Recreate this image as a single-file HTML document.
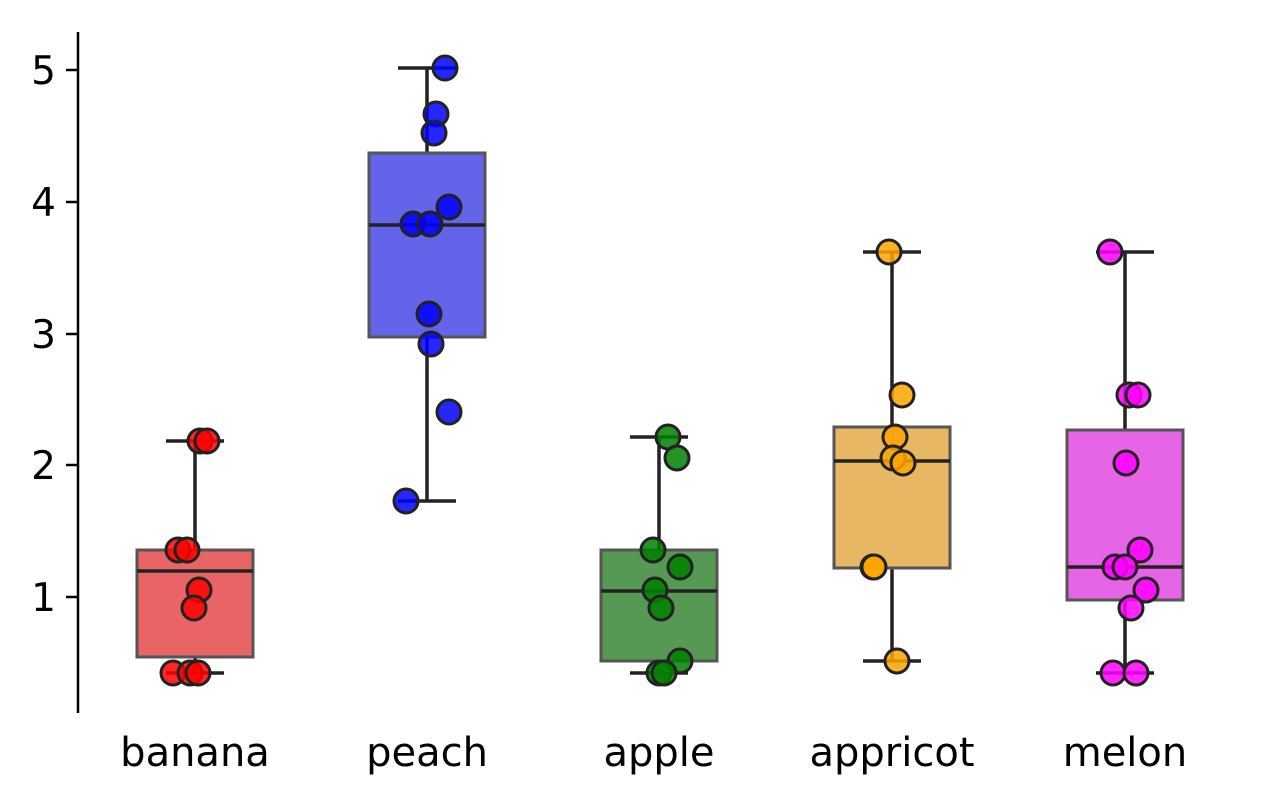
<!DOCTYPE html>
<html><head><meta charset="utf-8"><style>body{margin:0;background:#fff}svg{display:block}</style></head>
<body>
<svg width="1273" height="803" viewBox="0 0 1273 803" xmlns="http://www.w3.org/2000/svg" font-family="DejaVu Sans, Liberation Sans, sans-serif">
<g stroke="#000" stroke-width="2.5">
<line x1="78" y1="32" x2="78" y2="713"/>
<line x1="66" y1="70" x2="78" y2="70"/><line x1="66" y1="202" x2="78" y2="202"/><line x1="66" y1="334" x2="78" y2="334"/><line x1="66" y1="465" x2="78" y2="465"/><line x1="66" y1="597" x2="78" y2="597"/>
</g>
<g font-size="39" text-anchor="end" fill="#000">
<text x="56" y="84">5</text><text x="56" y="216">4</text><text x="56" y="348">3</text><text x="56" y="479">2</text><text x="56" y="611">1</text>
</g>
<g font-size="40" text-anchor="middle" fill="#000">
<text x="195" y="766">banana</text><text x="427" y="766">peach</text><text x="659" y="766">apple</text><text x="892" y="766">appricot</text><text x="1125" y="766">melon</text>
</g>
<g stroke="#222" stroke-width="3.5" fill="none">
<line x1="195" y1="441" x2="195" y2="550"/><line x1="195" y1="657" x2="195" y2="673"/><line x1="166" y1="441" x2="224" y2="441"/><line x1="166" y1="673" x2="224" y2="673"/>
<line x1="427" y1="68" x2="427" y2="153"/><line x1="427" y1="337" x2="427" y2="501"/><line x1="398" y1="68" x2="456" y2="68"/><line x1="398" y1="501" x2="456" y2="501"/>
<line x1="659" y1="437" x2="659" y2="550"/><line x1="659" y1="661" x2="659" y2="673"/><line x1="630" y1="437" x2="688" y2="437"/><line x1="630" y1="673" x2="688" y2="673"/>
<line x1="892" y1="252" x2="892" y2="427"/><line x1="892" y1="568" x2="892" y2="661"/><line x1="863" y1="252" x2="921" y2="252"/><line x1="863" y1="661" x2="921" y2="661"/>
<line x1="1125" y1="252" x2="1125" y2="430"/><line x1="1125" y1="600" x2="1125" y2="673"/><line x1="1096" y1="252" x2="1154" y2="252"/><line x1="1096" y1="673" x2="1154" y2="673"/>
</g>
<g stroke="#555" stroke-width="3">
<rect x="137" y="550" width="116" height="107" fill="#e96464"/>
<rect x="369" y="153" width="116" height="184" fill="#6464ea"/>
<rect x="601" y="550" width="116" height="111" fill="#559955"/>
<rect x="834" y="427" width="116" height="141" fill="#e8b764"/>
<rect x="1067" y="430" width="116" height="170" fill="#e664e6"/>
</g>
<g stroke="#222" stroke-width="3.5">
<line x1="137" y1="571" x2="253" y2="571"/><line x1="369" y1="225" x2="485" y2="225"/><line x1="601" y1="591" x2="717" y2="591"/><line x1="834" y1="461" x2="950" y2="461"/><line x1="1067" y1="567" x2="1183" y2="567"/>
</g>
<g stroke="#222" stroke-width="3" fill-opacity="0.85">
<g fill="#ff0000"><circle cx="173" cy="673" r="12"/><circle cx="190" cy="673" r="12"/><circle cx="198" cy="673" r="12"/><circle cx="200" cy="441" r="12"/><circle cx="207" cy="441" r="12"/><circle cx="178" cy="550" r="12"/><circle cx="187" cy="550" r="12"/><circle cx="199" cy="590" r="12"/><circle cx="194" cy="608" r="12"/></g>
<g fill="#0000ff"><circle cx="445" cy="68" r="12"/><circle cx="436" cy="114" r="12"/><circle cx="434" cy="133" r="12"/><circle cx="449" cy="207" r="12"/><circle cx="413" cy="224" r="12"/><circle cx="430" cy="224" r="12"/><circle cx="429" cy="314" r="12"/><circle cx="431" cy="344" r="12"/><circle cx="449" cy="412" r="12"/><circle cx="406" cy="501" r="12"/></g>
<g fill="#008000"><circle cx="668" cy="437" r="12"/><circle cx="677" cy="458" r="12"/><circle cx="653" cy="550" r="12"/><circle cx="680" cy="567" r="12"/><circle cx="655" cy="590" r="12"/><circle cx="661" cy="608" r="12"/><circle cx="680" cy="661" r="12"/><circle cx="659" cy="673" r="12"/><circle cx="664" cy="673" r="12"/></g>
<g fill="#ffa500"><circle cx="889" cy="252" r="12"/><circle cx="902" cy="395" r="12"/><circle cx="895" cy="437" r="12"/><circle cx="893" cy="458" r="12"/><circle cx="903" cy="463" r="12"/><circle cx="873" cy="567" r="12"/><circle cx="874" cy="567" r="12"/><circle cx="897" cy="661" r="12"/></g>
<g fill="#ff00ff"><circle cx="1110" cy="252" r="12"/><circle cx="1129" cy="395" r="12"/><circle cx="1138" cy="395" r="12"/><circle cx="1126" cy="463" r="12"/><circle cx="1140" cy="550" r="12"/><circle cx="1115" cy="567" r="12"/><circle cx="1125" cy="567" r="12"/><circle cx="1146" cy="590" r="12"/><circle cx="1131" cy="608" r="12"/><circle cx="1113" cy="673" r="12"/><circle cx="1136" cy="673" r="12"/></g>
</g>
</svg>
</body></html>
